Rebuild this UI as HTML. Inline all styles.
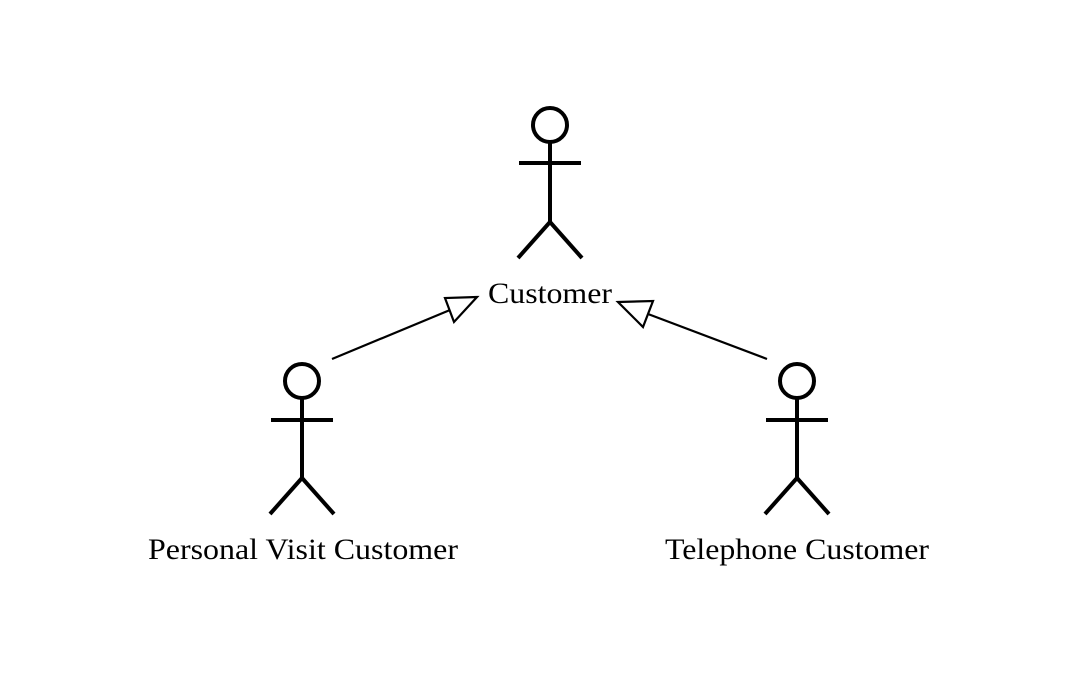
<!DOCTYPE html>
<html><head><meta charset="utf-8"><style>html,body{margin:0;padding:0;background:#fff}</style></head>
<body>
<svg width="1082" height="694" xmlns="http://www.w3.org/2000/svg" style="display:block">
<g fill="none" stroke="#000" stroke-width="4">
<circle cx="550" cy="125" r="17"/>
<line x1="550" y1="142" x2="550" y2="222"/>
<line x1="519" y1="163" x2="581" y2="163"/>
<line x1="550" y1="222" x2="518" y2="258"/>
<line x1="550" y1="222" x2="582" y2="258"/>

<circle cx="302" cy="381" r="17"/>
<line x1="302" y1="398" x2="302" y2="478"/>
<line x1="271" y1="420" x2="333" y2="420"/>
<line x1="302" y1="478" x2="270" y2="514"/>
<line x1="302" y1="478" x2="334" y2="514"/>

<circle cx="797" cy="381" r="17"/>
<line x1="797" y1="398" x2="797" y2="478"/>
<line x1="766" y1="420" x2="828" y2="420"/>
<line x1="797" y1="478" x2="765" y2="514"/>
<line x1="797" y1="478" x2="829" y2="514"/>
</g>
<g fill="#fff" stroke="#000" stroke-width="2.2">
<line x1="332" y1="359" x2="450" y2="310"/>
<polygon points="477,297 445,298 454,322"/>
<line x1="767" y1="359" x2="648" y2="314"/>
<polygon points="618,302 653,301 643,327"/>
</g>
<g font-family="Liberation Serif, serif" font-size="30" text-anchor="middle" fill="#000">
<text x="550" y="303" textLength="124" lengthAdjust="spacingAndGlyphs">Customer</text>
<text x="303" y="559" textLength="310" lengthAdjust="spacingAndGlyphs">Personal Visit Customer</text>
<text x="797" y="559" textLength="264" lengthAdjust="spacingAndGlyphs">Telephone Customer</text>
</g>
</svg>
</body></html>
